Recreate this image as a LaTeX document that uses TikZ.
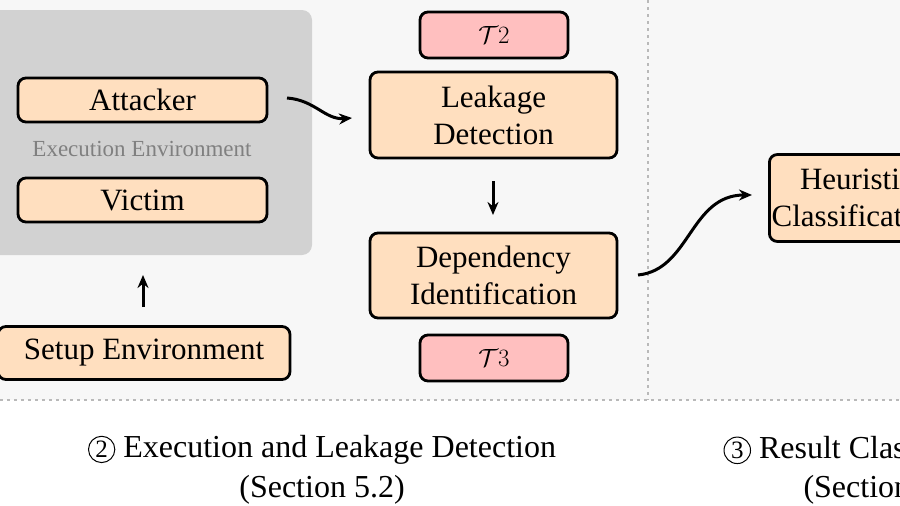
\documentclass[tikz,border=0pt]{standalone}
\usepackage{fontspec}
\setmainfont{Liberation Serif}
\usetikzlibrary{arrows.meta}
\begin{document}
\begin{tikzpicture}[x=1pt,y=-1pt,
  box/.style={draw=black,line width=2.8pt,rounded corners=8pt,fill=orange!25!white,font=\fontsize{31}{37}\selectfont,align=center,inner sep=0pt},
  tbox/.style={draw=black,line width=2.8pt,rounded corners=8pt,fill=red!25!white,minimum width=148pt,minimum height=46pt,font=\fontsize{33}{37}\selectfont,inner sep=0pt},
  arr/.style={line width=3pt,-{Stealth[length=13pt,width=11pt]}},
  dots/.style={line width=2.5pt,gray!55,dash pattern=on 2.5pt off 4.5pt},
  captxt/.style={font=\fontsize{32}{40}\selectfont,align=center},
  circ/.style={circle,draw,line width=1pt,inner sep=2pt,font=\fontsize{25}{27}\selectfont}]
\useasboundingbox (0,0) rectangle (900,506);
\clip (0,0) rectangle (900,506);
\fill[gray!6] (0,0) rectangle (900,400);
\draw[dots] (0,400) -- (900,400);
\draw[dots] (648,0) -- (648,400);
\fill[gray!35,rounded corners=10pt] (-20,10) rectangle (312,255);
\node[box,minimum width=249pt,minimum height=44pt] (att) at (142.5,100) {Attacker};
\node[box,minimum width=249pt,minimum height=44pt] (vic) at (142.5,200) {Victim};
\node[font=\fontsize{23}{26}\selectfont,text=gray] (ee) at (142,149) {Execution Environment};
\node[box,minimum width=292pt,minimum height=53pt] (setup) at (144,353) {Setup Environment};
\coordinate (su) at (143,307); \coordinate (sv) at (143,275);
\draw[arr] (su) -- (sv);
\node[tbox] (t2) at (494,35) {$\mathcal{T}2$};
\node[box,minimum width=247pt,minimum height=86pt] (ld) at (493.5,115) {Leakage\\Detection};
\node[box,minimum width=247pt,minimum height=85pt] (di) at (493.5,275.5) {Dependency\\Identification};
\node[tbox] (t3) at (494,358) {$\mathcal{T}3$};
\coordinate (a1) at (493,181); \coordinate (a2) at (493,215);
\draw[arr] (a1) -- (a2);
\coordinate (c1) at (287,98); \coordinate (c2) at (352,118);
\draw[arr] (c1) .. controls (315,100) and (325,120) .. (c2);
\node[box,minimum width=175pt,minimum height=87pt,anchor=west] (hc) at (768,198) {Heuristic\\Classification};
\coordinate (d1) at (638,275); \coordinate (d2) at (752,195);
\draw[arr] (d1) .. controls (690,270) and (690,195) .. (d2);
\node[captxt] (cap2) at (322,470) {\tikz[baseline=(n.base)]\node[circ](n){2}; Execution and Leakage Detection\\(Section 5.2)};
\node[captxt,anchor=west] (cap3) at (720,450) {\tikz[baseline=(m.base)]\node[circ](m){3}; Result Classification};
\node[captxt,anchor=west] (cap3b) at (800,490) {(Section 5.3)};
\end{tikzpicture}
\end{document}
